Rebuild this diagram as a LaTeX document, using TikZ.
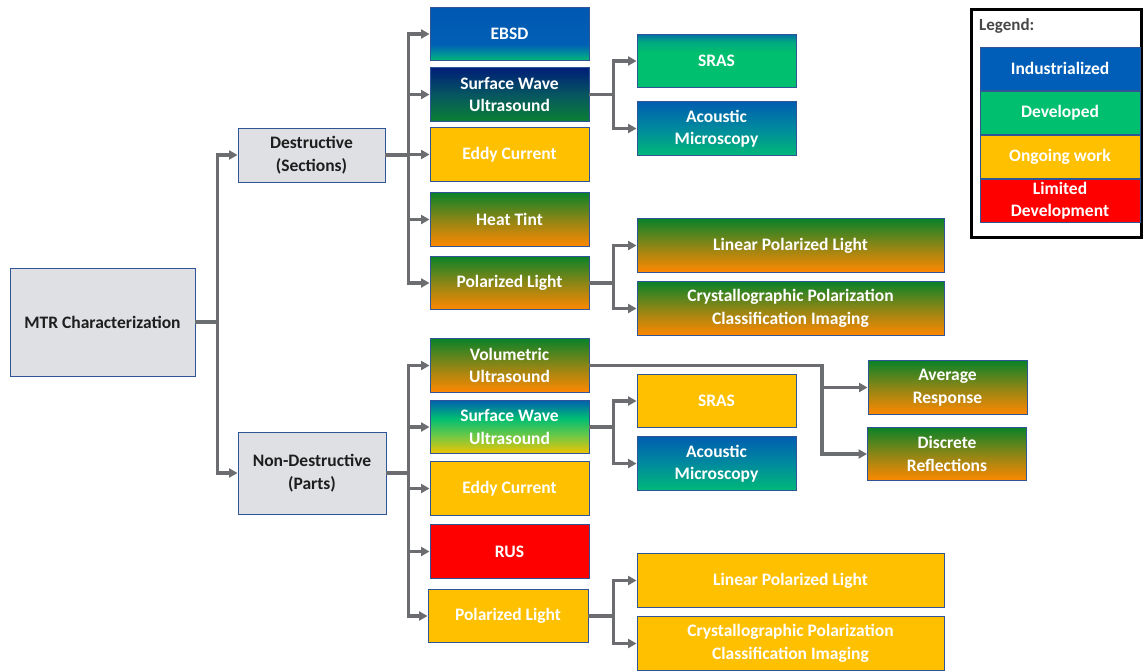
\documentclass[tikz,border=0pt]{standalone}
\usepackage{fontspec}
\setmainfont{Carlito}
\usetikzlibrary{arrows.meta}
\definecolor{bxgray}{HTML}{DEE0E3}
\definecolor{bxedge}{HTML}{2F5597}
\definecolor{cblue}{HTML}{005EB8}
\definecolor{cgreen}{HTML}{00BF6F}
\definecolor{cyellow}{HTML}{FFC000}
\definecolor{cred}{HTML}{FF0000}
\definecolor{cline}{HTML}{6B6D70}
\definecolor{ctext}{HTML}{1E1E1E}
% vertical shadings: 25bp = bottom of the path, 75bp = top
\pgfdeclareverticalshading{shebsd}{100bp}{color(0bp)=(rgb,255:red,0;green,186;blue,112); color(25bp)=(rgb,255:red,0;green,186;blue,112); color(31bp)=(rgb,255:red,0;green,150;blue,150); color(40bp)=(rgb,255:red,0;green,96;blue,180); color(75bp)=(rgb,255:red,0;green,88;blue,178); color(100bp)=(rgb,255:red,0;green,88;blue,178)}
\pgfdeclareverticalshading{shswuone}{100bp}{color(0bp)=(rgb,255:red,10;green,128;blue,52); color(25bp)=(rgb,255:red,10;green,128;blue,52); color(50bp)=(rgb,255:red,6;green,86;blue,96); color(75bp)=(rgb,255:red,0;green,30;blue,120); color(100bp)=(rgb,255:red,0;green,30;blue,120)}
\pgfdeclareverticalshading{shsras}{100bp}{color(0bp)=(rgb,255:red,0;green,191;blue,111); color(58bp)=(rgb,255:red,0;green,191;blue,111); color(68bp)=(rgb,255:red,0;green,168;blue,128); color(75bp)=(rgb,255:red,0;green,110;blue,168); color(100bp)=(rgb,255:red,0;green,110;blue,168)}
\pgfdeclareverticalshading{sham}{100bp}{color(0bp)=(rgb,255:red,0;green,184;blue,120); color(25bp)=(rgb,255:red,0;green,184;blue,120); color(50bp)=(rgb,255:red,0;green,138;blue,158); color(75bp)=(rgb,255:red,0;green,94;blue,176); color(100bp)=(rgb,255:red,0;green,94;blue,176)}
\pgfdeclareverticalshading{shgo}{100bp}{color(0bp)=(rgb,255:red,255;green,136;blue,0); color(25bp)=(rgb,255:red,255;green,136;blue,0); color(50bp)=(rgb,255:red,140;green,134;blue,22); color(75bp)=(rgb,255:red,10;green,130;blue,40); color(100bp)=(rgb,255:red,10;green,130;blue,40)}
\pgfdeclareverticalshading{shswutwo}{100bp}{color(0bp)=(rgb,255:red,242;green,196;blue,0); color(25bp)=(rgb,255:red,242;green,196;blue,0); color(42bp)=(rgb,255:red,110;green,200;blue,70); color(58bp)=(rgb,255:red,0;green,190;blue,114); color(75bp)=(rgb,255:red,0;green,96;blue,176); color(100bp)=(rgb,255:red,0;green,96;blue,176)}
\begin{document}
\begin{tikzpicture}[x=1pt,y=-1pt,
  base/.style={draw=bxedge, line width=0.9pt, inner sep=0pt, align=center,
    font=\fontsize{17.5}{22.5}\selectfont\bfseries},
  graybox/.style={base, fill=bxgray, text=ctext},
  cbox/.style={base, text=white},
  wshort/.style={minimum width=159pt, minimum height=53.5pt},
  wlong/.style={minimum width=307pt, minimum height=53.5pt},
  gorange/.style={cbox, shading=shgo},
  yel/.style={cbox, fill=cyellow},
  arr/.style={draw=cline, line width=3.2pt, -{Triangle[length=8.5pt,width=9pt]}}
]
\useasboundingbox (0,0) rectangle (1143,670);

% level 0 and 1
\node[graybox, minimum width=185pt, minimum height=108pt] (mtr) at (102.5,322) {MTR Characterization};
\node[graybox, minimum width=147pt, minimum height=54pt] (dest) at (311.5,155) {Destructive\\(Sections)};
\node[graybox, minimum width=148pt, minimum height=82pt] (ndest) at (312,473) {Non-Destructive\\(Parts)};

% destructive column
\node[cbox, wshort, shading=shebsd] (ebsd) at (509.5,34) {EBSD};
\node[cbox, wshort, shading=shswuone] (swu1) at (509.5,94.5) {Surface Wave\\Ultrasound};
\node[yel, wshort] (eddy1) at (509.5,154.5) {Eddy Current};
\node[gorange, wshort] (heat) at (509.5,219.5) {Heat Tint};
\node[gorange, wshort] (pl1) at (509.5,283) {Polarized Light};

\node[cbox, wshort, shading=shsras] (sras1) at (716.5,61) {SRAS};
\node[cbox, wshort, shading=sham] (am1) at (716.5,128.5) {Acoustic\\Microscopy};
\node[gorange, wlong] (lpl1) at (790.5,245.5) {Linear Polarized Light};
\node[gorange, wlong] (cpc1) at (790.5,308.5) {Crystallographic Polarization\\Classification Imaging};

% non-destructive column
\node[gorange, wshort] (vol) at (509.5,365.5) {Volumetric\\Ultrasound};
\node[cbox, wshort, shading=shswutwo] (swu2) at (509.5,427) {Surface Wave\\Ultrasound};
\node[yel, wshort] (eddy2) at (509.5,488.5) {Eddy Current};
\node[cbox, wshort, fill=cred] (rus) at (509.5,551.5) {RUS};
\node[yel, wshort, minimum width=160pt] (pl2) at (508,616) {Polarized Light};

\node[yel, wshort] (sras2) at (716.5,401) {SRAS};
\node[cbox, wshort, shading=sham] (am2) at (716.5,463.5) {Acoustic\\Microscopy};
\node[yel, wlong] (lpl2) at (790.5,580.5) {Linear Polarized Light};
\node[yel, wlong] (cpc2) at (790.5,643.5) {Crystallographic Polarization\\Classification Imaging};

\node[gorange, wshort] (avg) at (947.5,387.5) {Average\\Response};
\node[gorange, wshort] (disc) at (947,454) {Discrete\\Reflections};

% connectors
\draw[arr] (mtr.east) -- ++(22,0) |- (dest.west);
\draw[arr] (mtr.east) -- ++(22,0) |- (ndest.west);

\foreach \t in {ebsd,swu1,eddy1,heat,pl1}
  \draw[arr] (dest.east) -- ++(23,0) |- (\t.west);
\draw[arr] (swu1.east) -- ++(24,0) |- (sras1.west);
\draw[arr] (swu1.east) -- ++(24,0) |- (am1.west);
\draw[arr] (pl1.east) -- ++(24,0) |- (lpl1.west);
\draw[arr] (pl1.east) -- ++(24,0) |- (cpc1.west);

\foreach \t in {vol,swu2,eddy2,rus,pl2}
  \draw[arr] (ndest.east) -- ++(22,0) |- (\t.west);
\draw[arr] (vol.east) -| ([xshift=-46pt]avg.west) |- (avg.west);
\draw[arr] (vol.east) -| ([xshift=-45pt]disc.west) |- (disc.west);
\draw[arr] (swu2.east) -- ++(24,0) |- (sras2.west);
\draw[arr] (swu2.east) -- ++(24,0) |- (am2.west);
\draw[arr] (pl2.east) -- ++(25,0) |- (lpl2.west);
\draw[arr] (pl2.east) -- ++(25,0) |- (cpc2.west);

% legend
\node[draw=black, line width=3pt, minimum width=170pt, minimum height=228pt, inner sep=0pt] (legframe) at (1056,123) {};
\node[anchor=west, inner sep=0pt, font=\fontsize{17}{20}\selectfont\bfseries, text=black!72] (legtitle) at (979,26) {Legend:};
\node[cbox, minimum width=160pt, minimum height=43pt, fill=cblue] (lg1) at (1060,68.5) {Industrialized};
\node[cbox, minimum width=160pt, minimum height=43pt, fill=cgreen] (lg2) at (1060,113) {Developed};
\node[cbox, minimum width=160pt, minimum height=43pt, fill=cyellow] (lg3) at (1060,156.5) {Ongoing work};
\node[cbox, minimum width=160pt, minimum height=43pt, fill=cred] (lg4) at (1060,200.5) {Limited\\Development};
\end{tikzpicture}
\end{document}
